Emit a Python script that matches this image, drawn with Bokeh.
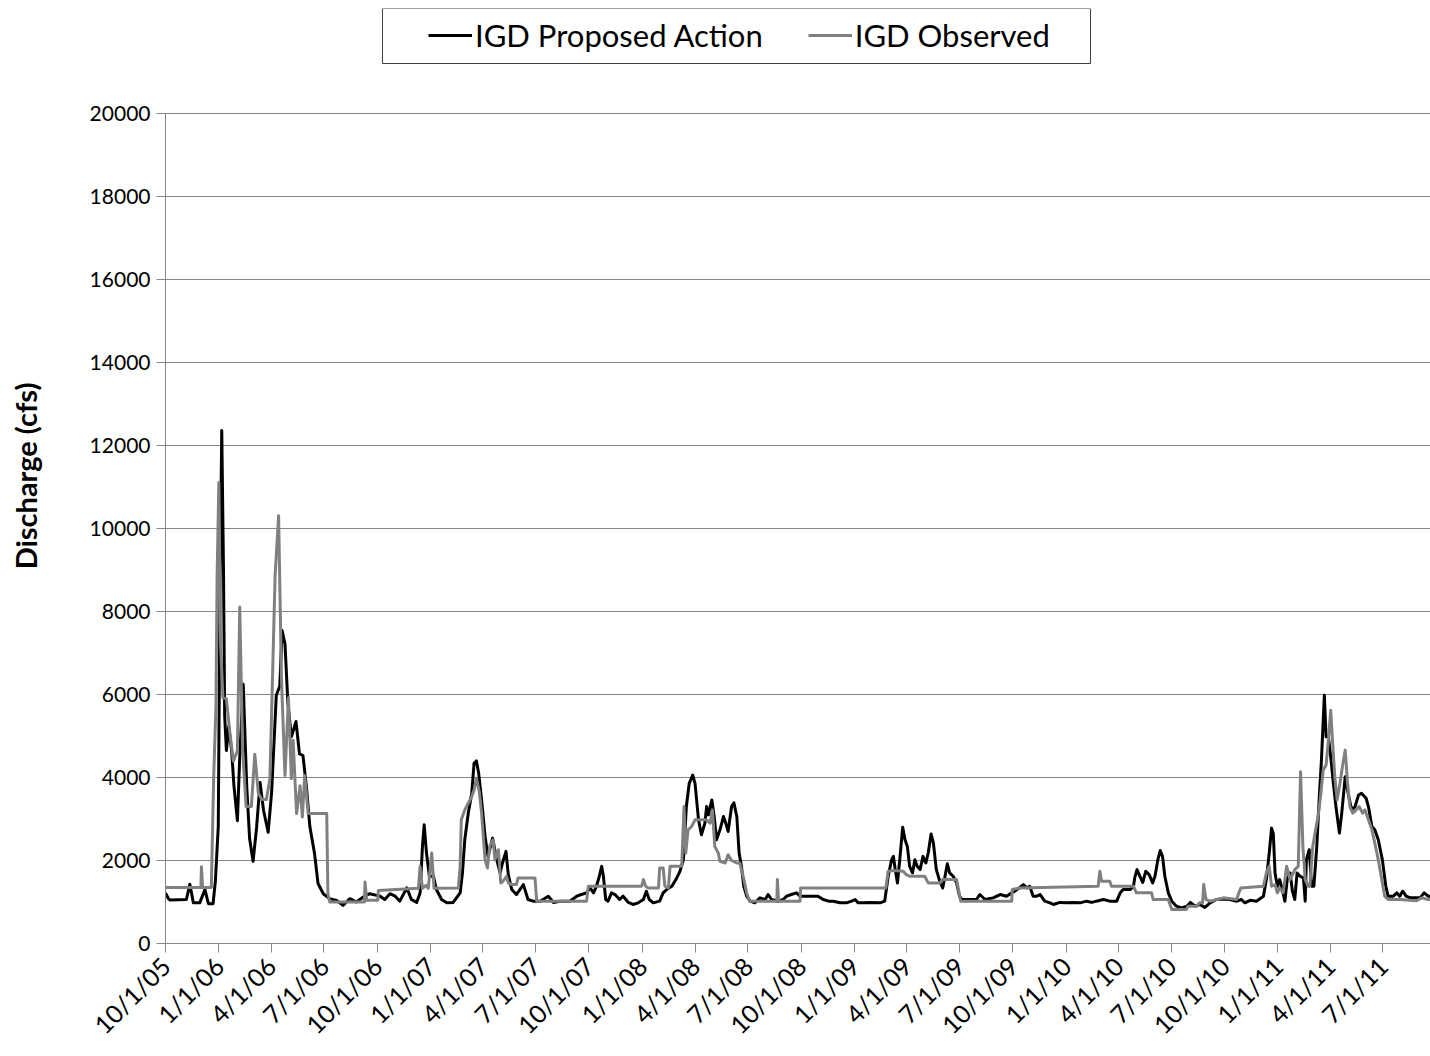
from datetime import datetime
from math import pi

from bokeh.plotting import figure
from bokeh.models import (ColumnDataSource, FixedTicker, Legend, LegendItem,
                          BoxAnnotation, Range1d)
from bokeh.embed import file_html
from bokeh.resources import INLINE

# ---------------- data ----------------
START = "10/1/05"          # day 0 of every series below

tick_labels = ["10/1/05", "1/1/06", "4/1/06", "7/1/06", "10/1/06", "1/1/07",
               "4/1/07", "7/1/07", "10/1/07", "1/1/08", "4/1/08", "7/1/08",
               "10/1/08", "1/1/09", "4/1/09", "7/1/09", "10/1/09", "1/1/10",
               "4/1/10", "7/1/10", "10/1/10", "1/1/11", "4/1/11", "7/1/11"]
y_ticks = [0, 2000, 4000, 6000, 8000, 10000, 12000, 14000, 16000, 18000, 20000]

# IGD Proposed Action: (days since 10/1/05, discharge cfs), by water year
pa_wy06 = [(0, 1220), (5, 1080), (8, 1050), (36, 1060), (42, 1430), (48, 980), (59, 980),
           (68, 1300), (74, 960), (82, 960), (86, 1500), (91, 2830), (94, 8700), (97, 12360),
           (100, 9000), (102, 5490), (105, 4650), (109, 5240), (114, 4650), (118, 3800),
           (124, 2960), (128, 4500), (134, 6250), (140, 3800), (145, 2530), (151, 1980),
           (157, 2785), (163, 3880), (169, 3210), (177, 2680), (183, 3650), (191, 5980),
           (197, 6200), (201, 7540), (206, 7220), (211, 5800), (217, 4980), (225, 5350),
           (231, 4570), (237, 4530), (243, 3770), (249, 2805), (257, 2165), (263, 1445),
           (272, 1200), (283, 1080), (295, 1040), (306, 920), (318, 1080), (329, 1000),
           (341, 1120), (352, 1200), (364, 1160)]
pa_wy07 = [(370, 1140), (378, 1060), (387, 1200), (396, 1140), (404, 1020), (416, 1340),
           (424, 1060), (433, 990), (439, 1220), (443, 2340), (446, 2860), (450, 2180),
           (455, 1620), (462, 1620), (467, 1300), (476, 1060), (485, 980), (496, 990),
           (508, 1220), (512, 1700), (516, 2500), (522, 3140), (528, 3620), (532, 4340),
           (536, 4400), (540, 4100), (545, 3460), (551, 2580), (556, 2100), (564, 2540),
           (571, 2020), (577, 1700), (581, 1940), (587, 2220), (591, 1660), (597, 1300),
           (605, 1180), (617, 1420), (625, 1060), (634, 1020), (646, 1020), (660, 1140),
           (669, 990), (680, 1020), (697, 1020), (709, 1140), (717, 1180), (726, 1220)]
pa_wy08 = [(732, 1340), (738, 1220), (743, 1380), (748, 1620), (752, 1860), (755, 1620),
           (759, 1060), (763, 1020), (769, 1220), (775, 1180), (783, 1060), (789, 1140),
           (798, 990), (806, 940), (815, 980), (824, 1060), (829, 1260), (834, 1060),
           (841, 980), (852, 1020), (858, 1220), (864, 1300), (873, 1380), (880, 1540),
           (887, 1740), (893, 2020), (898, 3300), (903, 3860), (909, 4060), (913, 3860),
           (919, 2980), (924, 2620), (930, 2900), (933, 3300), (936, 3100), (942, 3460),
           (946, 3060), (950, 2500), (956, 2740), (962, 3060), (966, 2900), (970, 2700),
           (976, 3300), (980, 3390), (985, 3060), (989, 2180), (993, 1860), (997, 1380),
           (1002, 1140), (1008, 1020), (1016, 980), (1025, 1100), (1034, 1060), (1039, 1180),
           (1045, 1060), (1057, 1020), (1065, 1060), (1071, 1140), (1079, 1180), (1088, 1220),
           (1094, 1140)]
pa_wy09 = [(1105, 1140), (1117, 1140), (1125, 1140), (1134, 1060), (1143, 1020), (1151, 1020),
           (1163, 980), (1174, 980), (1183, 1020), (1189, 1060), (1194, 980), (1203, 980),
           (1215, 990), (1232, 980), (1240, 1020), (1246, 1620), (1252, 2020), (1255, 2100),
           (1258, 1800), (1262, 1460), (1266, 2020), (1271, 2800), (1275, 2500), (1279, 2340),
           (1283, 1860), (1288, 1700), (1292, 2020), (1296, 1860), (1301, 1780), (1306, 2100),
           (1311, 1940), (1315, 2180), (1320, 2640), (1324, 2420), (1329, 1780), (1335, 1500),
           (1340, 1340), (1344, 1620), (1348, 1920), (1352, 1700), (1358, 1620), (1364, 1460),
           (1369, 1140), (1373, 1060), (1387, 1060), (1398, 1060), (1404, 1180), (1413, 1060),
           (1427, 1100), (1439, 1180), (1450, 1140), (1459, 1220)]
pa_wy10 = [(1464, 1260), (1472, 1340), (1479, 1420), (1485, 1340), (1490, 1380), (1496, 1140),
           (1502, 1140), (1508, 1180), (1516, 1020), (1525, 980), (1531, 940), (1542, 990),
           (1554, 980), (1565, 990), (1577, 980), (1588, 1020), (1597, 990), (1605, 1020),
           (1617, 1060), (1628, 1020), (1640, 1020), (1646, 1220), (1651, 1300), (1663, 1300),
           (1669, 1380), (1671, 1580), (1675, 1780), (1680, 1620), (1685, 1470), (1690, 1740),
           (1696, 1660), (1702, 1460), (1706, 1620), (1711, 2020), (1715, 2240), (1719, 2100),
           (1723, 1620), (1729, 1220), (1735, 1020), (1743, 900), (1752, 860), (1761, 900),
           (1767, 990), (1775, 900), (1783, 940), (1792, 870), (1801, 980), (1812, 1060),
           (1824, 1070)]
pa_wy11 = [(1835, 1060), (1847, 1020), (1855, 1060), (1861, 980), (1870, 1040), (1881, 1020),
           (1893, 1140), (1898, 1540), (1903, 2180), (1907, 2780), (1910, 2650), (1913, 1700),
           (1917, 1380), (1921, 1540), (1924, 1380), (1930, 1020), (1934, 1540), (1939, 1700),
           (1943, 1260), (1947, 1060), (1951, 1700), (1956, 1620), (1962, 1580), (1965, 1020),
           (1967, 2020), (1972, 2260), (1976, 1380), (1980, 1380), (1985, 2340), (1989, 3460),
           (1993, 4420), (1998, 5980), (2001, 4980), (2005, 4980), (2009, 4500), (2013, 3940),
           (2018, 3300), (2024, 2660), (2028, 3140), (2034, 4020), (2039, 3620), (2045, 3220),
           (2051, 3300), (2057, 3580), (2062, 3620), (2070, 3500), (2074, 3300), (2080, 2820),
           (2085, 2740), (2091, 2500), (2098, 2020), (2104, 1380), (2108, 1140), (2117, 1140),
           (2123, 1220), (2128, 1140), (2133, 1260), (2139, 1140), (2146, 1100), (2154, 1100),
           (2163, 1100), (2170, 1220), (2177, 1140), (2185, 1140)]

# IGD Observed: (days since 10/1/05, discharge cfs), by water year
obs_wy06 = [(0, 1350), (61, 1350), (62, 1850), (64, 1350), (79, 1350), (83, 3970), (87, 5740),
            (89, 8870), (92, 11110), (95, 7180), (99, 5920), (105, 5900), (111, 5070),
            (117, 4390), (124, 4650), (128, 8110), (133, 4650), (139, 3300), (148, 3300),
            (154, 4560), (160, 3630), (166, 3470), (174, 3470), (180, 3970), (189, 8870),
            (195, 10310), (200, 6340), (206, 4050), (212, 5920), (217, 3970), (220, 4900),
            (226, 3130), (232, 3800), (236, 3050), (240, 4050), (246, 3130), (278, 3130),
            (280, 1200), (283, 1000), (343, 1000), (344, 1480), (347, 1040), (366, 1040)]
obs_wy07 = [(367, 1280), (436, 1330), (439, 1860), (443, 1330), (449, 1400), (453, 1330),
            (459, 2180), (463, 1330), (505, 1340), (508, 1860), (510, 2980), (516, 3220),
            (522, 3380), (528, 3540), (532, 3700), (536, 3980), (541, 3660), (545, 3140),
            (551, 2020), (555, 1820), (559, 2340), (565, 2500), (568, 2020), (574, 2260),
            (578, 1460), (582, 1500), (588, 1620), (591, 1460), (597, 1420), (605, 1420),
            (608, 1580), (637, 1580), (640, 1020), (726, 1020)]
obs_wy08 = [(729, 1380), (821, 1380), (824, 1540), (828, 1380), (832, 1340), (850, 1340),
            (852, 1820), (858, 1820), (861, 1380), (867, 1340), (870, 1860), (890, 1860),
            (894, 3300), (897, 2180), (901, 2740), (907, 2820), (913, 2980), (933, 2980),
            (939, 2900), (943, 3220), (947, 2340), (953, 2180), (956, 1980), (965, 1940),
            (970, 2140), (976, 2000), (985, 1940), (990, 1940), (996, 1620), (1002, 1220),
            (1007, 1020), (1054, 1020), (1055, 1540), (1057, 1020), (1094, 1020)]
obs_wy09 = [(1095, 1340), (1242, 1340), (1246, 1740), (1255, 1760), (1272, 1740), (1277, 1660),
            (1283, 1620), (1309, 1620), (1315, 1460), (1335, 1460), (1340, 1540), (1364, 1540),
            (1371, 1020), (1459, 1020)]
obs_wy10 = [(1460, 1300), (1473, 1340), (1608, 1380), (1611, 1740), (1614, 1500), (1628, 1500),
            (1631, 1380), (1669, 1380), (1674, 1220), (1700, 1220), (1703, 1060), (1729, 1060),
            (1735, 820), (1760, 820), (1763, 900), (1778, 900), (1783, 980), (1788, 980),
            (1790, 1420), (1794, 1060), (1801, 1020), (1824, 1100)]
obs_wy11 = [(1847, 1060), (1850, 1200), (1854, 1340), (1893, 1380), (1898, 1700), (1903, 1860),
            (1907, 1380), (1913, 1420), (1917, 1220), (1921, 1340), (1927, 1220), (1933, 1860),
            (1939, 1540), (1947, 1780), (1953, 1860), (1957, 4140), (1961, 2340), (1965, 1540),
            (1970, 1380), (1973, 1380), (1978, 2340), (1982, 2660), (1988, 3140), (1992, 3620),
            (1996, 4180), (2001, 4300), (2005, 4900), (2009, 5620), (2012, 4900), (2016, 4020),
            (2020, 3460), (2025, 3860), (2030, 4340), (2034, 4660), (2038, 3860), (2042, 3300),
            (2047, 3140), (2053, 3220), (2058, 3300), (2064, 3140), (2068, 3220), (2074, 2980),
            (2080, 2740), (2085, 2420), (2091, 2020), (2097, 1540), (2102, 1140), (2108, 1060),
            (2128, 1060), (2157, 1030), (2166, 1100), (2177, 1060), (2185, 1060)]

series_names = ["IGD Proposed Action", "IGD Observed"]

# ---------------- build ----------------
FONT = "Lato"
t0 = datetime.strptime(START, "%m/%d/%y")
tick_pos = [(datetime.strptime(t, "%m/%d/%y") - t0).days for t in tick_labels]


def to_source(*parts):
    pts = [pt for part in parts for pt in part]
    return ColumnDataSource(dict(day=[d for d, _ in pts], cfs=[v for _, v in pts]))


pa_src = to_source(pa_wy06, pa_wy07, pa_wy08, pa_wy09, pa_wy10, pa_wy11)
obs_src = to_source(obs_wy06, obs_wy07, obs_wy08, obs_wy09, obs_wy10, obs_wy11)

# geometry (pixels): plotting area 165..1430 wide; y=0 at 943, y=20000 at 113;
# the frame reaches up to y=8 so that the legend (above the data area) is not clipped
PX_PER_DAY = 0.58
FRAME_LEFT, FRAME_TOP, FRAME_W = 165, 8, 1265
Y0_PX, YTOP_PX = 943, 113
FRAME_H = Y0_PX - FRAME_TOP
y_max = y_ticks[-1] * FRAME_H / (Y0_PX - YTOP_PX)

p = figure(frame_width=FRAME_W, frame_height=FRAME_H,
           x_range=Range1d(0, FRAME_W / PX_PER_DAY), y_range=Range1d(0, y_max),
           output_backend="svg", toolbar_location=None,
           min_border_left=FRAME_LEFT, min_border_right=0, min_border_top=FRAME_TOP,
           min_border_bottom=10)
p.outline_line_color = None
p.background_fill_color = "white"

r_pa = p.line("day", "cfs", source=pa_src, line_color="#000000", line_width=3,
              line_join="round")
r_obs = p.line("day", "cfs", source=obs_src, line_color="#808080", line_width=3,
               line_join="round")

# axes
GRID = "#868686"
p.xgrid.grid_line_color = None
p.ygrid.grid_line_color = GRID
p.ygrid.grid_line_width = 1

xa = p.xaxis[0]
xa.ticker = FixedTicker(ticks=tick_pos)
xa.major_label_overrides = {tp: lab for tp, lab in zip(tick_pos, tick_labels)}
xa.major_label_orientation = pi / 4
xa.axis_line_color = GRID
xa.major_tick_line_color = GRID
xa.major_tick_out = 9
xa.major_tick_in = 0
xa.minor_tick_line_color = None
xa.major_label_text_font = FONT
xa.major_label_text_font_size = "25px"
xa.major_label_text_color = "black"
xa.major_label_standoff = 9

ya = p.yaxis[0]
ya.ticker = FixedTicker(ticks=y_ticks)
ya.bounds = (y_ticks[0], y_ticks[-1])
ya.axis_line_color = GRID
ya.major_tick_line_color = GRID
ya.major_tick_out = 9
ya.major_tick_in = 0
ya.minor_tick_line_color = None
ya.major_label_text_font = FONT
ya.major_label_text_font_size = "21px"
ya.major_label_text_color = "black"
ya.major_label_standoff = 6
ya.axis_label = "Discharge (cfs)"
ya.axis_label_text_font = FONT
ya.axis_label_text_font_style = "bold"
ya.axis_label_text_font_size = "29px"
ya.axis_label_text_color = "black"
ya.axis_label_standoff = 44

# legend box, drawn in the top strip of the frame (screen units from frame bottom-left)
box = BoxAnnotation(left=382 - FRAME_LEFT, right=1090 - FRAME_LEFT,
                    bottom=Y0_PX - 63, top=Y0_PX - 8,
                    left_units="screen", right_units="screen",
                    top_units="screen", bottom_units="screen",
                    fill_color="white", fill_alpha=1.0,
                    line_color="#404040", line_width=1, line_alpha=1.0)
p.add_layout(box)

legend = Legend(items=[LegendItem(label=series_names[0], renderers=[r_pa]),
                       LegendItem(label=series_names[1], renderers=[r_obs])],
                location=(428 - FRAME_LEFT, Y0_PX - 54), orientation="horizontal",
                label_text_font=FONT, label_text_font_size="31px",
                label_text_color="black",
                glyph_width=44, glyph_height=20, label_standoff=3, spacing=45,
                padding=0, margin=0, border_line_alpha=0, background_fill_alpha=0)
p.add_layout(legend)

open("out.html", "w").write(file_html(p, INLINE))
